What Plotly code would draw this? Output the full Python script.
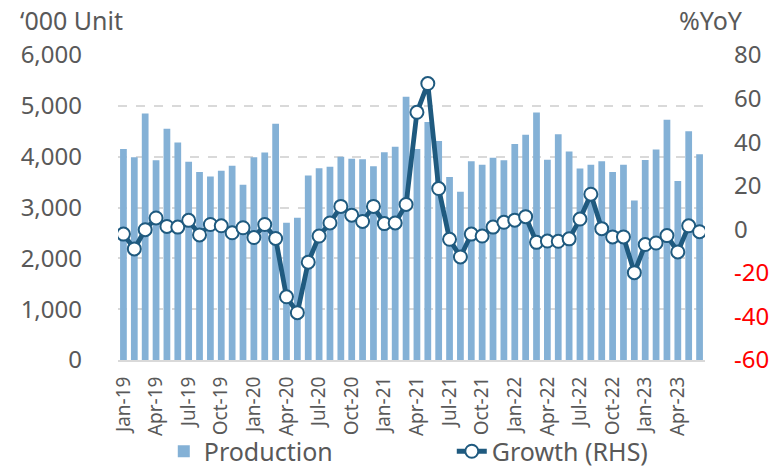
import plotly.graph_objects as go

months = ["Jan", "Feb", "Mar", "Apr", "May", "Jun", "Jul", "Aug", "Sep", "Oct", "Nov", "Dec"]
categories = [f"{m}-{y}" for y in ["19", "20", "21", "22", "23"] for m in months][:54]

production = [
    4150, 3990, 4850, 3930, 4550, 4280, 3900, 3700, 3610, 3725, 3820, 3450,
    3990, 4080, 4650, 2700, 2800, 3630, 3770, 3800, 4000, 3960, 3950, 3810,
    4085, 4195, 5180, 4150, 4680, 4310, 3600, 3310, 3910, 3840, 3980, 3930,
    4250, 4430, 4870, 3940, 4440, 4100, 3765, 3840, 3910, 3700, 3840, 3140,
    3935, 4140, 4725, 3520, 4500, 4050,
]

growth = [
    -2.2, -9.0, -0.2, 5.2, 1.3, 1.0, 4.1, -2.6, 2.2, 1.6, -1.6, 0.7,
    -3.8, 2.2, -4.2, -31.0, -38.3, -15.1, -3.1, 2.9, 10.5, 6.5, 3.6, 10.5,
    2.6, 2.9, 11.4, 53.7, 66.9, 18.7, -4.6, -12.7, -2.2, -3.1, 1.0, 3.2,
    4.2, 5.8, -6.0, -5.4, -5.5, -4.4, 4.7, 16.1, 0.3, -3.5, -3.5, -19.9,
    -7.0, -6.3, -2.9, -10.4, 1.6, -1.1,
]

left_ticks = [0, 1000, 2000, 3000, 4000, 5000, 6000]
right_ticks = [-60, -40, -20, 0, 20, 40, 60, 80]
x_ticks = categories[::3]

FONT = "Noto Sans"
GREY = "#595959"
BAR = "#84B1D6"
LINE = "#1F5A7F"

right_text = [
    (f"<span style='color:#FF0000'>{v}</span>" if v < 0 else str(v)) for v in right_ticks
]

fig = go.Figure()
fig.add_trace(go.Bar(
    x=categories, y=production, name="Production",
    marker=dict(color=BAR, line=dict(width=0)),
))
fig.add_trace(go.Scatter(
    x=categories, y=growth, name="Growth (RHS)", yaxis="y2",
    mode="lines+markers",
    line=dict(color=LINE, width=4.8),
    marker=dict(symbol="circle", size=13, color="white", line=dict(color=LINE, width=2)),
))

fig.update_layout(
    width=769, height=469,
    margin=dict(l=118, r=64, t=55, b=109, pad=0, autoexpand=False),
    paper_bgcolor="white", plot_bgcolor="white",
    font=dict(family=FONT, color=GREY),
    bargap=0.38,
    showlegend=True,
    hovermode=False,
    legend=dict(
        orientation="h", x=0.078, xanchor="left", y=-0.30, yanchor="middle",
        font=dict(size=25, color=GREY, family=FONT),
        entrywidth=243, itemwidth=30,
        bgcolor="rgba(0,0,0,0)",
    ),
    xaxis=dict(
        type="category", range=[-0.5, 53.5], automargin=False,
        tickmode="array", tickvals=x_ticks, ticktext=x_ticks,
        tickangle=-90, tickfont=dict(size=19, color=GREY, family=FONT),
        showgrid=False, showline=True, linecolor="#D9D9D9", linewidth=2,
        ticks="", ticklabelstandoff=7,
    ),
    yaxis=dict(
        range=[0, 6000], tickmode="array", tickvals=left_ticks, automargin=False,
        ticktext=[f"{v:,}" for v in left_ticks],
        tickfont=dict(size=24, color=GREY, family=FONT),
        showgrid=True, gridcolor="#D9D9D9", griddash="dash", gridwidth=1.5,
        zeroline=False, showline=False, ticks="", ticklabelstandoff=35,
    ),
    yaxis2=dict(
        range=[-60, 80], overlaying="y", side="right", automargin=False,
        tickmode="array", tickvals=right_ticks, ticktext=right_text,
        tickfont=dict(size=24, color=GREY, family=FONT),
        showgrid=False, zeroline=False, showline=False, ticks="",
        ticklabelstandoff=28,
    ),
    annotations=[
        dict(text="‘000 Unit", xref="paper", yref="paper", x=-0.170, y=1.114,
             xanchor="left", yanchor="middle", showarrow=False,
             font=dict(size=25, color=GREY, family=FONT)),
        dict(text="%YoY", xref="paper", yref="paper", x=0.952, y=1.1136,
             xanchor="left", yanchor="middle", showarrow=False,
             font=dict(size=25, color=GREY, family=FONT)),
    ],
)

# remove the page's default 8px body margin so the figure fills the window
fig.write_html(
    "out.html",
    config={"displayModeBar": False},
    post_script="document.body.style.margin='0';",
)
